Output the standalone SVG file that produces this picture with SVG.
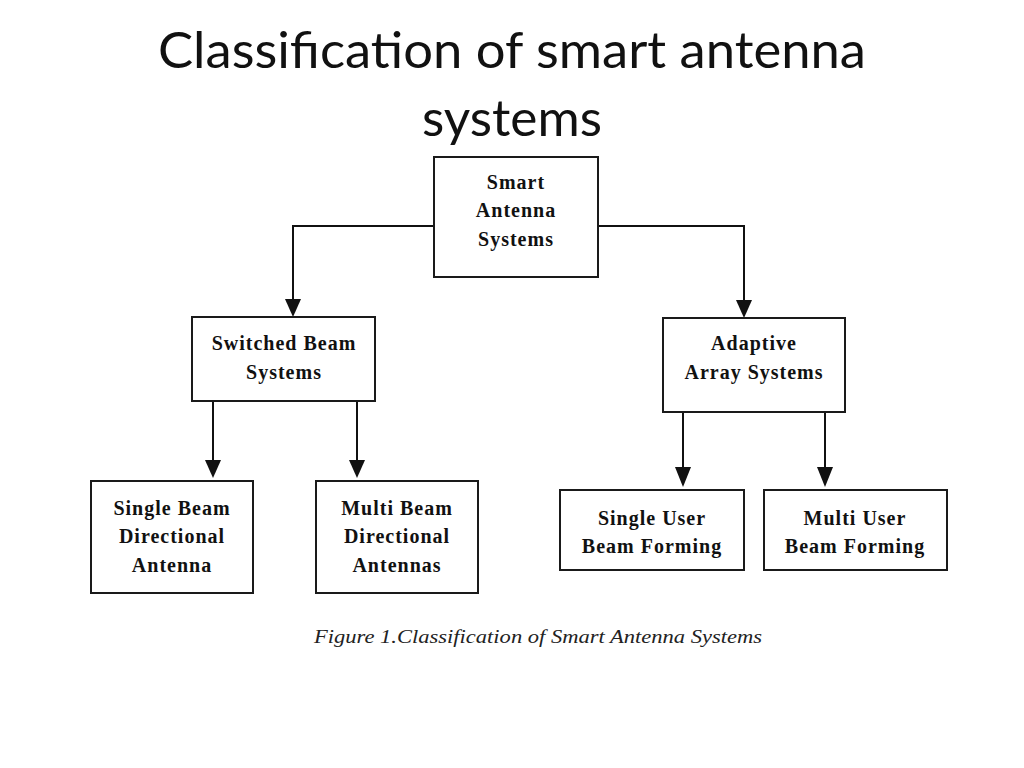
<svg xmlns="http://www.w3.org/2000/svg" width="1024" height="768" viewBox="0 0 1024 768">
<style>
.box{fill:#fff;stroke:#1a1a1a;stroke-width:2}
.lbl{font-family:"Liberation Serif","Times New Roman",serif;font-weight:bold;font-size:20px;letter-spacing:1px;fill:#111;text-anchor:middle}
.title{font-family:Lato,"Open Sans",sans-serif;font-size:50px;fill:#111;text-anchor:middle}
.cap{font-family:"Liberation Serif",serif;font-style:italic;font-size:19px;fill:#222;text-anchor:middle}
.con{fill:none;stroke:#111;stroke-width:2}
</style>
<rect width="1024" height="768" fill="#fff"/>
<text class="title" x="512" y="68" textLength="708" lengthAdjust="spacingAndGlyphs">Classification of smart antenna</text>
<text class="title" x="512" y="136" textLength="180" lengthAdjust="spacingAndGlyphs">systems</text>
<g id="connectors">
<path class="con" d="M434,226 H293 V299"/>
<path d="M285,299 L301,299 L293,317 Z" fill="#111"/>
<path class="con" d="M598,226 H744 V300"/>
<path d="M736,300 L752,300 L744,318 Z" fill="#111"/>
<path class="con" d="M213,401 V460"/>
<path d="M205,460 L221,460 L213,478 Z" fill="#111"/>
<path class="con" d="M357,401 V460"/>
<path d="M349,460 L365,460 L357,478 Z" fill="#111"/>
<path class="con" d="M683,412 V467"/>
<path d="M675,467 L691,467 L683,487 Z" fill="#111"/>
<path class="con" d="M825,412 V467"/>
<path d="M817,467 L833,467 L825,487 Z" fill="#111"/>
</g>
<g id="root">
<rect class="box" x="434" y="157" width="164" height="120"/>
<text class="lbl" x="516" y="189">Smart</text>
<text class="lbl" x="516" y="217">Antenna</text>
<text class="lbl" x="516" y="246">Systems</text>
</g>
<g id="switched">
<rect class="box" x="192" y="317" width="183" height="84"/>
<text class="lbl" x="284" y="350">Switched Beam</text>
<text class="lbl" x="284" y="379">Systems</text>
</g>
<g id="adaptive">
<rect class="box" x="663" y="318" width="182" height="94"/>
<text class="lbl" x="754" y="350">Adaptive</text>
<text class="lbl" x="754" y="379">Array Systems</text>
</g>
<g id="singlebeam">
<rect class="box" x="91" y="481" width="162" height="112"/>
<text class="lbl" x="172" y="515">Single Beam</text>
<text class="lbl" x="172" y="543">Directional</text>
<text class="lbl" x="172" y="572">Antenna</text>
</g>
<g id="multibeam">
<rect class="box" x="316" y="481" width="162" height="112"/>
<text class="lbl" x="397" y="515">Multi Beam</text>
<text class="lbl" x="397" y="543">Directional</text>
<text class="lbl" x="397" y="572">Antennas</text>
</g>
<g id="singleuser">
<rect class="box" x="560" y="490" width="184" height="80"/>
<text class="lbl" x="652" y="525">Single User</text>
<text class="lbl" x="652" y="553">Beam Forming</text>
</g>
<g id="multiuser">
<rect class="box" x="764" y="490" width="183" height="80"/>
<text class="lbl" x="855" y="525">Multi User</text>
<text class="lbl" x="855" y="553">Beam Forming</text>
</g>
<text class="cap" x="538" y="643" textLength="448" lengthAdjust="spacingAndGlyphs">Figure 1.Classification of Smart Antenna Systems</text>
</svg>
